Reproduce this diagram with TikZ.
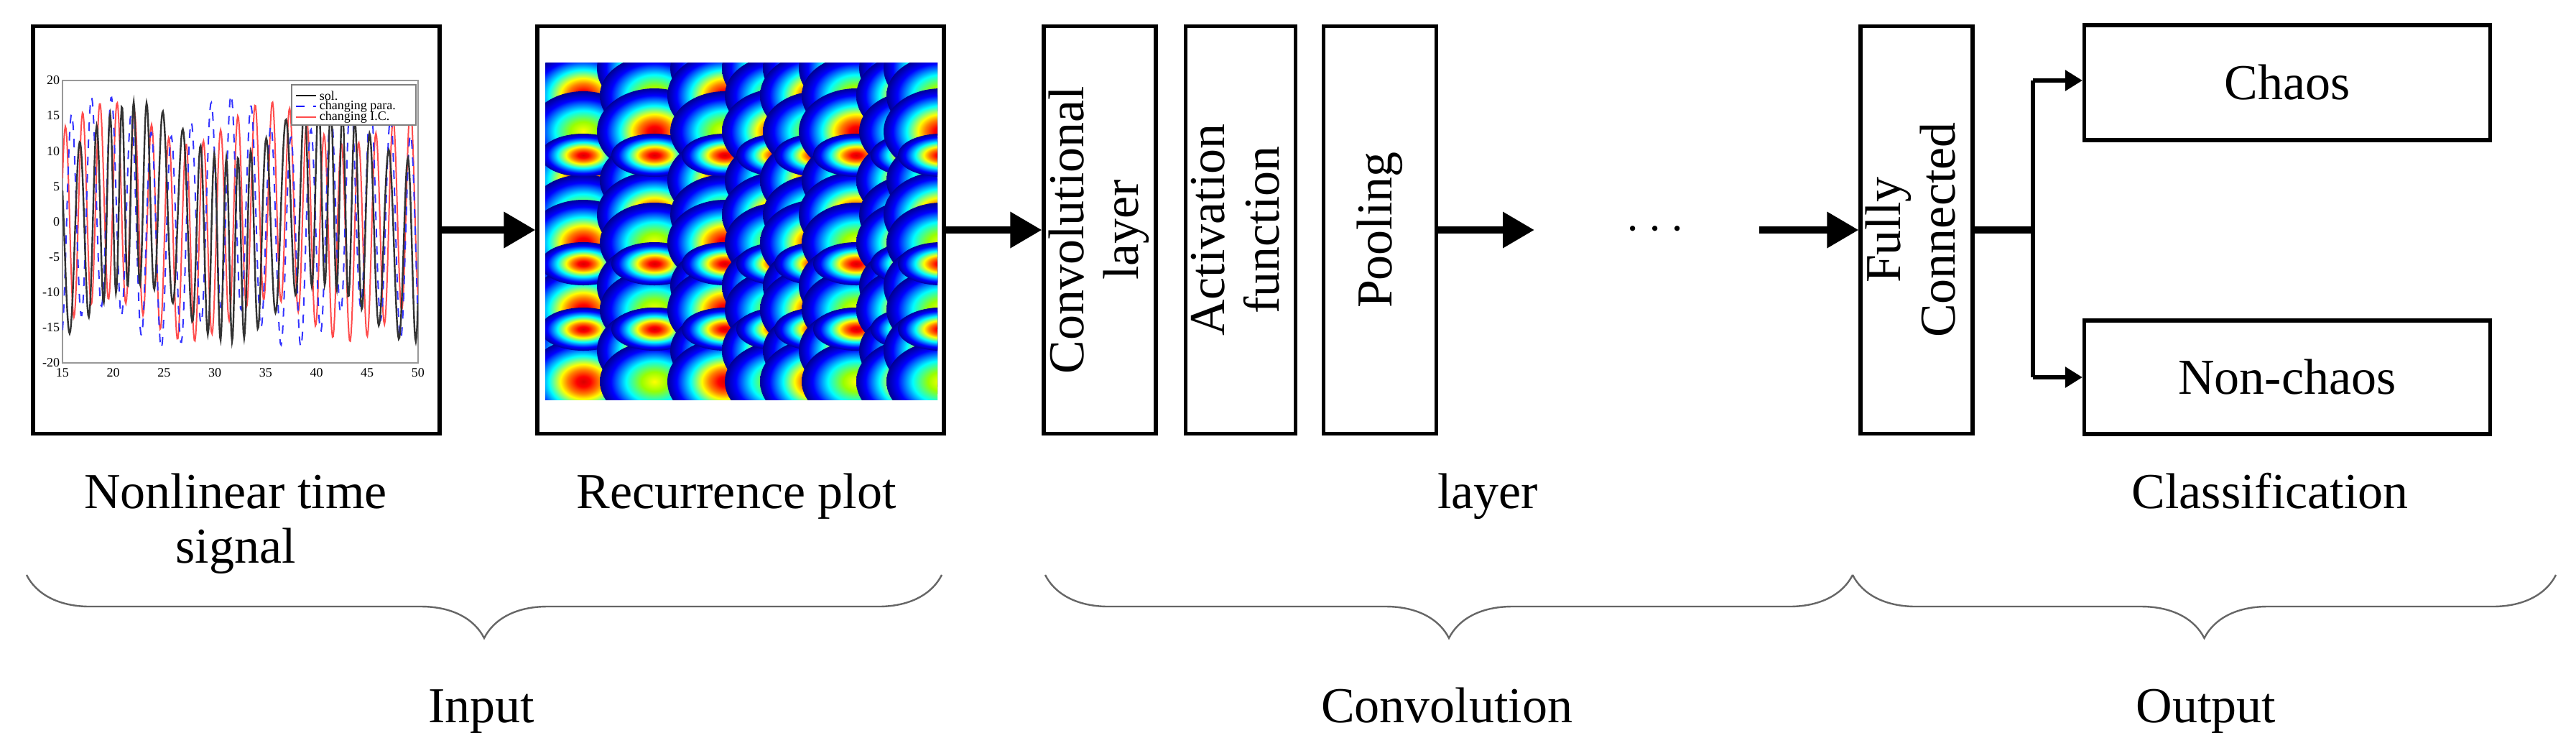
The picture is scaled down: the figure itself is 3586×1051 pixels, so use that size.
\documentclass[tikz,border=0pt]{standalone}
\usepackage{fontspec}
\setmainfont{Liberation Serif}
\usetikzlibrary{arrows.meta,decorations.pathreplacing}
\pgfdeclareradialshading{jetr}{\pgfpoint{0bp}{0bp}}{color(0bp)=(red!85!black); color(3bp)=(red); color(7bp)=(orange); color(10bp)=(yellow); color(15bp)=(cyan); color(21bp)=(blue); color(27bp)=(blue!40!black); color(50bp)=(blue!40!black)}
\pgfdeclareradialshading{jety}{\pgfpoint{0bp}{0bp}}{color(0bp)=(yellow); color(6bp)=(yellow!60!green); color(13bp)=(cyan); color(20bp)=(blue); color(27bp)=(blue!40!black); color(50bp)=(blue!40!black)}
\begin{document}
\begin{tikzpicture}[x=0.25pt,y=-0.25pt,
  box/.style 2 args={draw,line width=1.3pt,minimum width=#1*0.25pt,minimum height=#2*0.25pt,inner sep=0pt,font=\fontsize{17.5}{19}\selectfont,align=center},
  lbl/.style={font=\fontsize{17.5}{19}\selectfont,anchor=base,inner sep=0pt},
  arr/.style={line width=2.5pt,-{Triangle[length=11pt,width=12pt]}},
  sarr/.style={line width=1.4pt,-{Triangle[length=6pt,width=7pt]}},
  br/.style={draw=black!60,line width=0.6pt,decorate,decoration={brace,mirror,amplitude=22pt}},
  tick/.style={font=\fontsize{4.5}{5}\selectfont,inner sep=0pt}]
\useasboundingbox (0,0) rectangle (3586,1051);
% boxes
\node[box={566}{567}] (sig) at (329,320) {};
\node[box={566}{567}] (rp) at (1031,320) {};
\node[box={156}{567}] (conv) at (1531,320) {\rotatebox{90}{\begin{tabular}{c}Convolutional\\layer\end{tabular}}};
\node[box={153}{567}] (act) at (1727,320) {\rotatebox{90}{\begin{tabular}{c}Activation\\function\end{tabular}}};
\node[box={157}{567}] (pool) at (1921,320) {\rotatebox{90}{Pooling}};
\node[box={156}{567}] (fc) at (2668,320) {\rotatebox{90}{\begin{tabular}{c}Fully\\Connected\end{tabular}}};
\node[box={565}{160}] (chaos) at (3184,115) {Chaos};
\node[box={565}{158}] (non) at (3184,525) {Non-chaos};
% time signal plot
\begin{scope}
\draw[black!40,line width=0.4pt] (87,112) rectangle (582,505);
\foreach \v [count=\i from 0] in {20,15,10,5,0,-5,-10,-15,-20}
  \node[tick,anchor=east] at (84,{112+\i*49.1}) {\v};
\foreach \v [count=\i from 0] in {15,20,25,30,35,40,45,50}
  \node[tick,anchor=north] at ({87+\i*70.7},512) {\v};
\clip (87,112) rectangle (582,505);
\draw[red!70,line width=0.5pt] plot[domain=15:50,samples=500] ({87+(\x-15)*14.14},{308.5-9.83*(14*cos(deg(3.7*\x))+3*sin(deg(0.4*\x)))});
\draw[blue!80,dashed,line width=0.5pt] plot[domain=15:50,samples=500] ({87+(\x-15)*14.14},{308.5-9.83*(15*sin(deg(3.2*\x+1))-3*cos(deg(0.5*\x)))});
\draw[black!80,line width=0.6pt] plot[domain=15:50,samples=500] ({87+(\x-15)*14.14},{308.5-9.83*(13*sin(deg(4.3*\x+2*sin(deg(0.6*\x))))+4*sin(deg(0.35*\x)))});
\fill[white] (406,118) rectangle (579,174);
\draw[black!50,line width=0.3pt] (406,118) rectangle (579,174);
\draw[black,line width=0.5pt] (412,133)--(440,133);
\draw[blue,dashed,line width=0.5pt] (412,148)--(440,148);
\draw[red!70,line width=0.5pt] (412,163)--(440,163);
\node[tick,anchor=west] at (444,133) {sol.};
\node[tick,anchor=west] at (444,148) {changing para.};
\node[tick,anchor=west] at (444,163) {changing I.C.};
\end{scope}
% recurrence plot
\begin{scope}
\clip (759,87) rectangle (1305,556);
\fill[blue!40!black] (759,87) rectangle (1305,556);
\foreach \cx [count=\c] in {765,812,911,1009,1085,1138,1192,1272,1310}{
  \foreach \ry [count=\r] in {95,133,183,251,299,338,398,431,488,531}{
    \pgfmathtruncatemacro{\m}{mod(\c+\r,2)}
    \ifnum\m=0
      \shade[shading=jetr] (\cx,\ry) ellipse [x radius=80,y radius=60];
    \else
      \shade[shading=jety] (\cx,\ry) ellipse [x radius=76,y radius=56];
    \fi
  }
  \foreach \ry in {216,367,458}{
    \shade[shading=jetr] (\cx,\ry) ellipse [x radius=60,y radius=30];
  }}
\end{scope}
% arrows
\draw[arr] (sig.east) -- (rp.west);
\draw[arr] (rp.east) -- (conv.west);
\coordinate (pe) at (2136,320);
\draw[arr] (pool.east) -- (pe);
\node[font=\fontsize{17.5}{19}\selectfont] (dots) at (2304,320) {$\cdots$};
\coordinate (fs) at (2449,320);
\draw[arr] (fs) -- (fc.west);
\coordinate (bj) at (2830,320);
\draw[line width=2.5pt] (fc.east) -- (bj);
\coordinate (bt) at (2830,112);
\coordinate (bb) at (2830,525);
\draw[line width=1.4pt] (bt) -- (bb);
\draw[sarr] (bt) -- (bt -| chaos.west);
\draw[sarr] (bb) -- (bb -| non.west);
% labels
\node[lbl] (l1) at (328,707) {\begin{tabular}[t]{@{}c@{}}Nonlinear time\\signal\end{tabular}};
\node[lbl] (l2) at (1025,707) {Recurrence plot};
\node[lbl] (l3) at (2071,707) {layer};
\node[lbl] (l4) at (3160,707) {Classification};
% braces
\draw[br] (37,800) -- (1311,800);
\draw[br] (1455,800) -- (2579,800);
\draw[br] (2579,800) -- (3558,800);
\node[lbl] (g1) at (670,1005) {Input};
\node[lbl] (g2) at (2014,1005) {Convolution};
\node[lbl] (g3) at (3071,1005) {Output};
\end{tikzpicture}
\end{document}
